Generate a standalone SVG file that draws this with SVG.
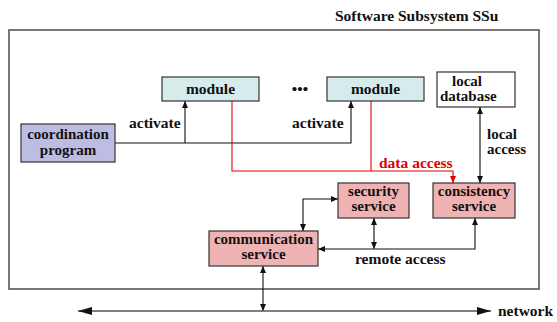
<svg xmlns="http://www.w3.org/2000/svg" width="557" height="322" viewBox="0 0 557 322">
<style>
text{font-family:"Liberation Serif","Times New Roman",serif;font-weight:bold;font-size:15.5px;fill:#111}
.c{text-anchor:middle}
.t2{font-size:15px}
.box{stroke:#333;stroke-width:1.2}
.mod{fill:#d6ecec}
.coord{fill:#bdbde4}
.svc{fill:#f0b3b3}
.ln{fill:none;stroke:#111;stroke-width:1.1}
.gl{fill:none;stroke:#555;stroke-width:1.6}
.red{fill:none;stroke:#e00000;stroke-width:1.1}
</style>
<defs>
<marker id="a" viewBox="0 0 10 10" refX="10" refY="5" markerWidth="7" markerHeight="6" orient="auto-start-reverse" markerUnits="userSpaceOnUse" preserveAspectRatio="none"><path d="M0,0 L10,5 L0,10 z" fill="#111"/></marker>
<marker id="ar" viewBox="0 0 10 10" refX="10" refY="5" markerWidth="7" markerHeight="6" orient="auto-start-reverse" markerUnits="userSpaceOnUse" preserveAspectRatio="none"><path d="M0,0 L10,5 L0,10 z" fill="#e00000"/></marker>
<marker id="an" viewBox="0 0 10 10" refX="10" refY="5" markerWidth="14" markerHeight="8" orient="auto-start-reverse" markerUnits="userSpaceOnUse" preserveAspectRatio="none"><path d="M0,0 L10,5 L0,10 z" fill="#111"/></marker>
</defs>
<text x="335" y="21">Software Subsystem SSu</text>
<rect x="9" y="30" width="530" height="259" fill="none" stroke="#555" stroke-width="1.6"/>
<g id="connectors">
<path class="ln" d="M115,143 H351 V101" marker-end="url(#a)"/>
<path class="ln" d="M185,143 V101" marker-end="url(#a)"/>
<path class="red" d="M232,101 V171 H453 V183" marker-end="url(#ar)"/>
<path class="red" d="M371,101 V171"/>
<path class="gl" d="M480,107 V183" marker-start="url(#a)" marker-end="url(#a)"/>
<path class="ln" d="M338,199 H303 V231" marker-start="url(#a)" marker-end="url(#a)"/>
<path class="ln" d="M318,249 H475 V218" marker-start="url(#a)" marker-end="url(#a)"/>
<path class="gl" d="M374,218 V249" marker-start="url(#a)" marker-end="url(#a)"/>
<path class="ln" d="M263,266 V311" marker-start="url(#a)" marker-end="url(#a)"/>
<path class="gl" d="M78,311 H491" marker-start="url(#an)" marker-end="url(#an)"/>
</g>
<g id="module1"><rect class="box mod" x="162" y="77" width="97" height="24"/><text class="c" x="210.5" y="94">module</text></g>
<g id="dots"><text class="c" x="300" y="94">•••</text></g>
<g id="module2"><rect class="box mod" x="327" y="77" width="97" height="24"/><text class="c" x="375.5" y="94">module</text></g>
<g id="localdb"><rect class="box" fill="#fff" x="437" y="72" width="78" height="35"/><text class="t2" x="452" y="86">local</text><text class="t2" x="440" y="101">database</text></g>
<g id="coordination"><rect class="box coord" x="21" y="124" width="94" height="38"/><text class="c t2" x="68" y="139">coordination</text><text class="c t2" x="68" y="155">program</text></g>
<g id="security"><rect class="box svc" x="338" y="183" width="71" height="35"/><text class="c t2" x="373.5" y="196">security</text><text class="c t2" x="373.5" y="211">service</text></g>
<g id="consistency"><rect class="box svc" x="433" y="183" width="82" height="35"/><text class="c t2" x="474" y="196">consistency</text><text class="c t2" x="474" y="211">service</text></g>
<g id="communication"><rect class="box svc" x="209" y="231" width="109" height="35"/><text class="c t2" x="263.5" y="244">communication</text><text class="c t2" x="263.5" y="259">service</text></g>
<g id="labels">
<text x="129" y="128">activate</text>
<text x="292" y="128">activate</text>
<text x="379" y="168" style="fill:#e00000">data access</text>
<text class="t2" x="487" y="139">local</text>
<text class="t2" x="487" y="154">access</text>
<text x="355" y="264">remote access</text>
<text x="498" y="316">network</text>
</g>
</svg>
